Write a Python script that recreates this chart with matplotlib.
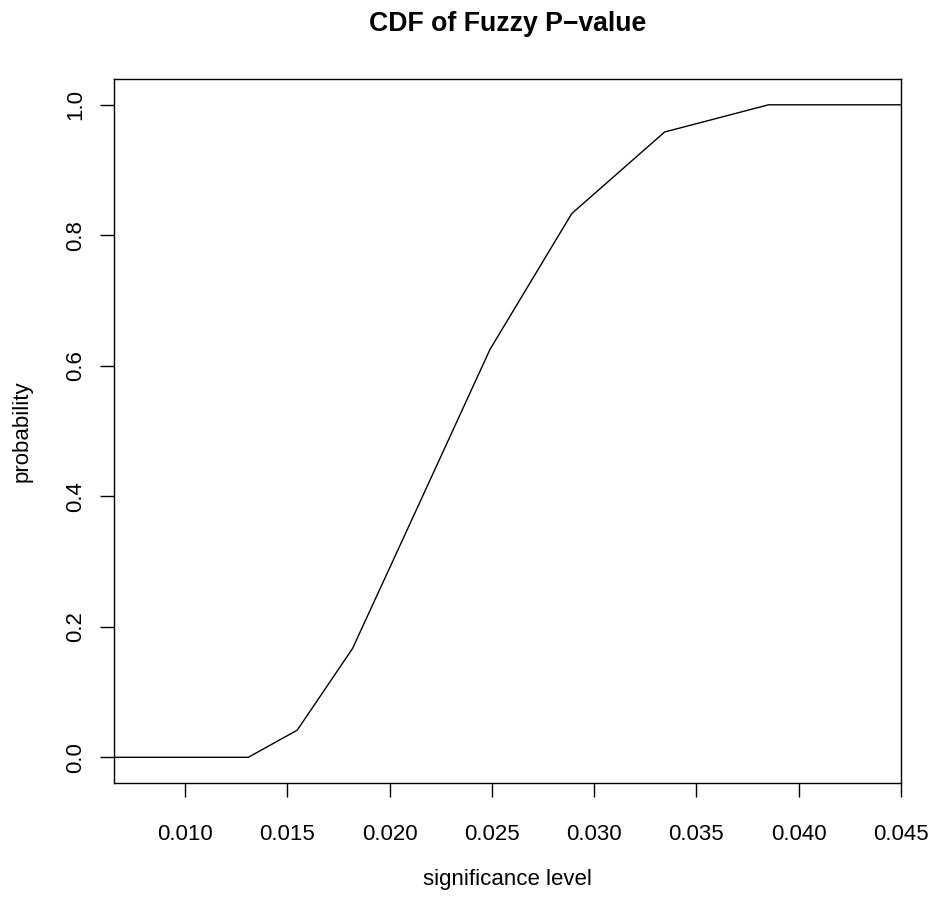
import matplotlib
matplotlib.use("Agg")
import matplotlib.pyplot as plt

# significance level breakpoints and CDF values of the fuzzy p-value
alpha = [0.00653, 0.01310, 0.01549, 0.01819, 0.02125, 0.02491, 0.02891, 0.03345, 0.03853, 0.04502]
prob = [0.0, 0.0, 1 / 24, 4 / 24, 9 / 24, 15 / 24, 20 / 24, 23 / 24, 1.0, 1.0]

x_ticks = [0.010, 0.015, 0.020, 0.025, 0.030, 0.035, 0.040, 0.045]
x_tick_labels = ["0.010", "0.015", "0.020", "0.025", "0.030", "0.035", "0.040", "0.045"]
y_ticks = [0.0, 0.2, 0.4, 0.6, 0.8, 1.0]
y_tick_labels = ["0.0", "0.2", "0.4", "0.6", "0.8", "1.0"]

plt.rcParams['font.family'] = ['Liberation Sans', 'DejaVu Sans']

fig = plt.figure(figsize=(9.32, 8.99), dpi=100)
ax = fig.add_axes([114 / 932, 1 - 783.4 / 899, (901.3 - 114) / 932, (783.4 - 78.7) / 899])

ax.plot(alpha, prob, color='black', linewidth=1.0)

ax.set_xlim(alpha[0], alpha[-1])
ax.set_ylim(-0.04, 1.04)

ax.set_xticks(x_ticks)
ax.set_xticklabels(x_tick_labels)
ax.set_yticks(y_ticks)
ax.set_yticklabels(y_tick_labels, rotation=90, va='center')

for side in ['top', 'right', 'bottom', 'left']:
    ax.spines[side].set_linewidth(1.0)

ax.tick_params(axis='x', length=10, width=1.0, pad=19, labelsize=16)
ax.tick_params(axis='y', length=10, width=1.0, pad=10, labelsize=16)

fig.text(507.7 / 932, 1 - 880 / 899, "significance level", ha='center', va='center', fontsize=16)
fig.text(22 / 932, 1 - 431 / 899, "probability", ha='center', va='center', rotation=90, fontsize=16)
fig.text(507.7 / 932, 1 - 24 / 899, "CDF of Fuzzy P\u2212value", ha='center', va='center',
         fontsize=19.2, fontweight='bold')

fig.savefig("out.png", dpi=100, facecolor='white')
